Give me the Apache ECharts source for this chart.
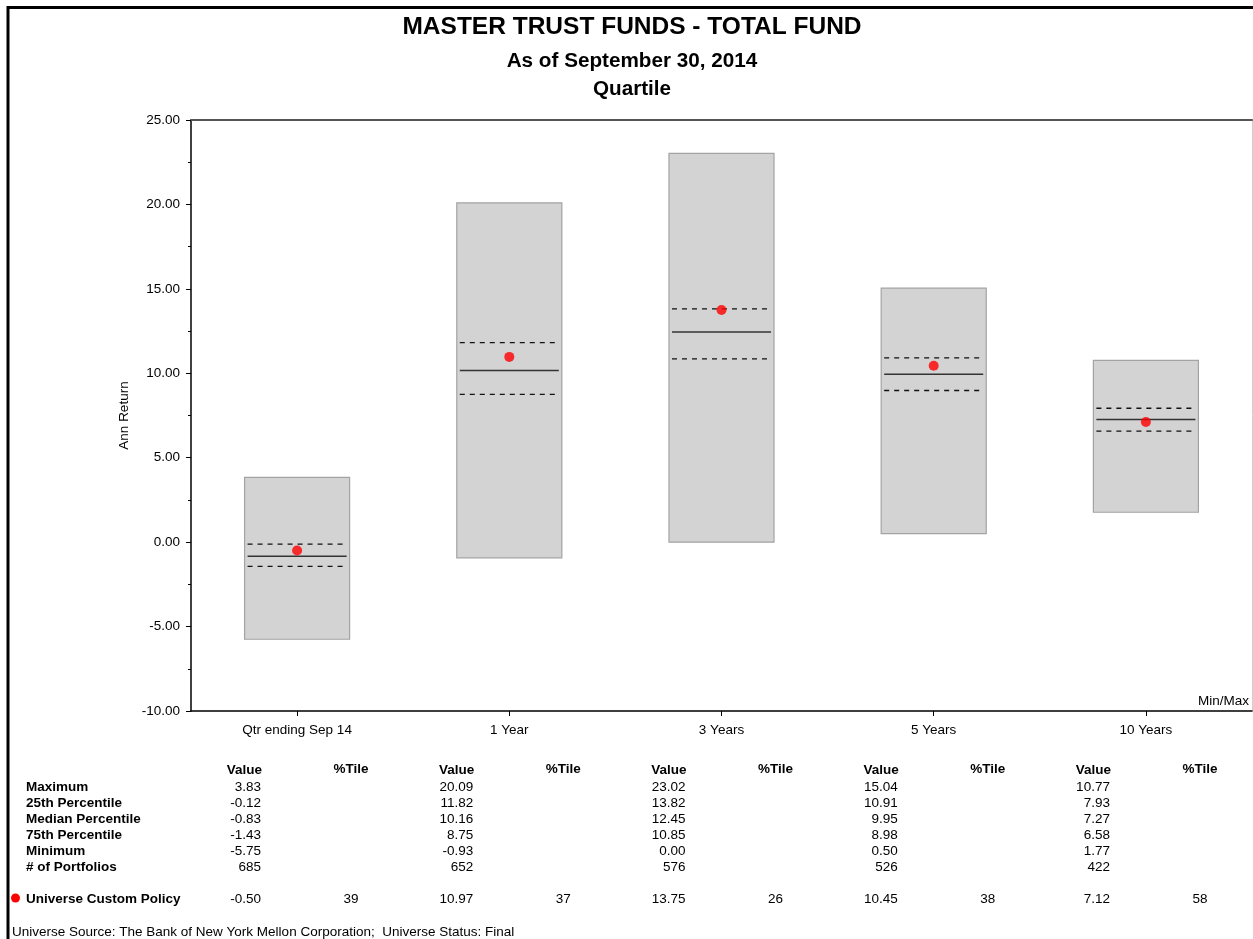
<!DOCTYPE html>
<html>
<head>
<meta charset="utf-8">
<script src="https://cdn.jsdelivr.net/npm/echarts@6/dist/echarts.min.js"></script>
<style>
html,body{margin:0;padding:0;background:#fff;}
#chart{width:1253px;height:939px;}
</style>
</head>
<body>
<div id="chart"></div>
<script>
// ---- data ----
const categories = ['Qtr ending Sep 14', '1 Year', '3 Years', '5 Years', '10 Years'];
const maximum = [3.83, 20.09, 23.02, 15.04, 10.77];
const pct25 = [-0.12, 11.82, 13.82, 10.91, 7.93];
const median = [-0.83, 10.16, 12.45, 9.95, 7.27];
const pct75 = [-1.43, 8.75, 10.85, 8.98, 6.58];
const minimum = [-5.75, -0.93, 0.00, 0.50, 1.77];
const portfolios = [685, 652, 576, 526, 422];
const policyValue = [-0.50, 10.97, 13.75, 10.45, 7.12];
const policyPctile = [39, 37, 26, 38, 58];
const rowLabels = ['Maximum', '25th Percentile', 'Median Percentile', '75th Percentile', 'Minimum', '# of Portfolios'];
const policyLabel = 'Universe Custom Policy';
const yTicks = { min: -10, max: 25, interval: 5 };
const titleText = 'MASTER TRUST FUNDS - TOTAL FUND';
const subText1 = 'As of September 30, 2014';
const subText2 = 'Quartile';
const footerText = 'Universe Source: The Bank of New York Mellon Corporation;  Universe Status: Final';

const FONT = '"Liberation Sans", Arial, sans-serif';
const FS = 13.5;

const boxData = categories.map((c, i) => [i, maximum[i], pct25[i], median[i], pct75[i], minimum[i]]);

const chart = echarts.init(document.getElementById('chart'), null, { renderer: 'canvas' });

const option = {
  animation: false,
  backgroundColor: '#fff',
  textStyle: { fontFamily: FONT },
  grid: { left: 191, right: 1, top: 120, height: 591, containLabel: false },
  xAxis: [{
    type: 'category',
    data: categories,
    boundaryGap: true,
    axisLine: { show: true, onZero: false, lineStyle: { color: '#000', width: 1.5 } },
    axisTick: { show: true, alignWithLabel: true, length: 5, lineStyle: { color: '#000' } },
    axisLabel: { color: '#000', fontSize: FS, fontFamily: FONT, margin: 12 },
    splitLine: { show: false }
  }, {
    type: 'category',
    data: categories,
    position: 'top',
    axisLine: { show: true, onZero: false, lineStyle: { color: '#555', width: 2 } },
    axisTick: { show: false },
    axisLabel: { show: false },
    splitLine: { show: false }
  }],
  yAxis: [{
    type: 'value',
    min: yTicks.min,
    max: yTicks.max,
    interval: yTicks.interval,
    name: 'Ann Return',
    nameLocation: 'middle',
    nameGap: 55,
    nameRotate: 90,
    nameTextStyle: { color: '#000', fontSize: FS, fontFamily: FONT },
    axisLine: { show: true, onZero: false, lineStyle: { color: '#000', width: 1.5 } },
    axisTick: { show: true, length: 5, lineStyle: { color: '#000' } },
    minorTick: { show: true, splitNumber: 2, length: 3, lineStyle: { color: '#000' } },
    axisLabel: { color: '#000', fontSize: FS, fontFamily: FONT, margin: 11, formatter: v => v.toFixed(2), padding: [2, 0, 0, 0] },
    splitLine: { show: false }
  }, {
    type: 'value',
    min: yTicks.min,
    max: yTicks.max,
    interval: yTicks.interval,
    position: 'right',
    axisLine: { show: true, onZero: false, lineStyle: { color: '#d0d0d0', width: 1 } },
    axisTick: { show: false },
    axisLabel: { show: false },
    splitLine: { show: false }
  }],
  series: [{
    type: 'custom',
    name: 'Quartile',
    data: boxData,
    encode: { x: 0, y: [1, 2, 3, 4, 5] },
    renderItem: function (params, api) {
      const i = api.value(0);
      const top = api.coord([i, api.value(1)]);
      const q25 = api.coord([i, api.value(2)]);
      const med = api.coord([i, api.value(3)]);
      const q75 = api.coord([i, api.value(4)]);
      const bot = api.coord([i, api.value(5)]);
      const bw = api.size([1, 0])[0] * 0.495;
      const x0 = top[0] - bw / 2;
      const x1 = top[0] + bw / 2;
      const inset = 3;
      const line = (y, dashed, w, col) => ({
        type: 'line',
        shape: { x1: x0 + inset, y1: y, x2: x1 - inset, y2: y },
        style: { stroke: col, lineWidth: w, lineDash: dashed ? [5, 5] : null }
      });
      return {
        type: 'group',
        children: [
          {
            type: 'rect',
            shape: { x: x0, y: top[1], width: bw, height: bot[1] - top[1] },
            style: { fill: '#d3d3d3', stroke: '#a3a3a3', lineWidth: 1.2 }
          },
          line(q25[1], true, 1.3, '#111'),
          line(med[1], false, 1.5, '#333'),
          line(q75[1], true, 1.3, '#111')
        ]
      };
    },
    z: 2
  }, {
    type: 'scatter',
    name: policyLabel,
    data: policyValue.map((v, i) => [i, v]),
    symbol: 'circle',
    symbolSize: 10,
    itemStyle: { color: '#ff0000' },
    z: 5
  }]
};

chart.setOption(option);

// ---- text layout (titles, table) ----
function buildGraphics() {
  const g = [];
  // outer frame
  g.push({ type: 'line', shape: { x1: 7, y1: 7.5, x2: 1253, y2: 7.5 }, style: { stroke: '#000', lineWidth: 3 }, silent: true });
  g.push({ type: 'line', shape: { x1: 8, y1: 6, x2: 8, y2: 939 }, style: { stroke: '#000', lineWidth: 3 }, silent: true });

  const cx = 632;
  g.push({ type: 'text', x: cx, y: 27.5, style: { text: titleText, font: 'bold 24.5px ' + FONT, fill: '#000', textAlign: 'center', textVerticalAlign: 'middle' } });
  g.push({ type: 'text', x: cx, y: 61, style: { text: subText1, font: 'bold 20.7px ' + FONT, fill: '#000', textAlign: 'center', textVerticalAlign: 'middle' } });
  g.push({ type: 'text', x: cx, y: 89, style: { text: subText2, font: 'bold 20.7px ' + FONT, fill: '#000', textAlign: 'center', textVerticalAlign: 'middle' } });

  // Min/Max note in plot corner
  const br = chart.convertToPixel({ gridIndex: 0 }, [categories.length - 0.5, yTicks.min]);
  g.push({ type: 'text', x: 1249, y: br[1] - 10, style: { text: 'Min/Max', font: FS + 'px ' + FONT, fill: '#000', textAlign: 'right', textVerticalAlign: 'middle' } });

  const boldF = 'bold ' + FS + 'px ' + FONT;
  const normF = FS + 'px ' + FONT;
  const headerY = 770;
  const rowY0 = 787, rowStep = 16;
  const policyY = 899;

  rowLabels.forEach((lab, r) => {
    g.push({ type: 'text', x: 26, y: rowY0 + r * rowStep, style: { text: lab, font: boldF, fill: '#000', textAlign: 'left', textVerticalAlign: 'middle' } });
  });
  g.push({ type: 'circle', shape: { cx: 15.5, cy: policyY - 1, r: 4.5 }, style: { fill: '#ff0000' } });
  g.push({ type: 'text', x: 26, y: policyY, style: { text: policyLabel, font: boldF, fill: '#000', textAlign: 'left', textVerticalAlign: 'middle' } });

  const cols = [maximum, pct25, median, pct75, minimum];
  categories.forEach((c, i) => {
    const px = chart.convertToPixel({ xAxisIndex: 0 }, c);
    const vr = px - 36;
    const pc = px + 54;
    g.push({ type: 'text', x: vr + 1, y: headerY, style: { text: 'Value', font: boldF, fill: '#000', textAlign: 'right', textVerticalAlign: 'middle' } });
    g.push({ type: 'text', x: pc, y: headerY - 1, style: { text: '%Tile', font: boldF, fill: '#000', textAlign: 'center', textVerticalAlign: 'middle' } });
    cols.forEach((arr, r) => {
      g.push({ type: 'text', x: vr, y: rowY0 + r * rowStep, style: { text: arr[i].toFixed(2), font: normF, fill: '#000', textAlign: 'right', textVerticalAlign: 'middle' } });
    });
    g.push({ type: 'text', x: vr, y: rowY0 + 5 * rowStep, style: { text: String(portfolios[i]), font: normF, fill: '#000', textAlign: 'right', textVerticalAlign: 'middle' } });
    g.push({ type: 'text', x: vr, y: policyY, style: { text: policyValue[i].toFixed(2), font: normF, fill: '#000', textAlign: 'right', textVerticalAlign: 'middle' } });
    g.push({ type: 'text', x: pc, y: policyY, style: { text: String(policyPctile[i]), font: normF, fill: '#000', textAlign: 'center', textVerticalAlign: 'middle' } });
  });

  g.push({ type: 'text', x: 12, y: 932, style: { text: footerText, font: normF, fill: '#000', textAlign: 'left', textVerticalAlign: 'middle' } });
  return g;
}

chart.setOption({ graphic: buildGraphics() });
</script>
</body>
</html>
